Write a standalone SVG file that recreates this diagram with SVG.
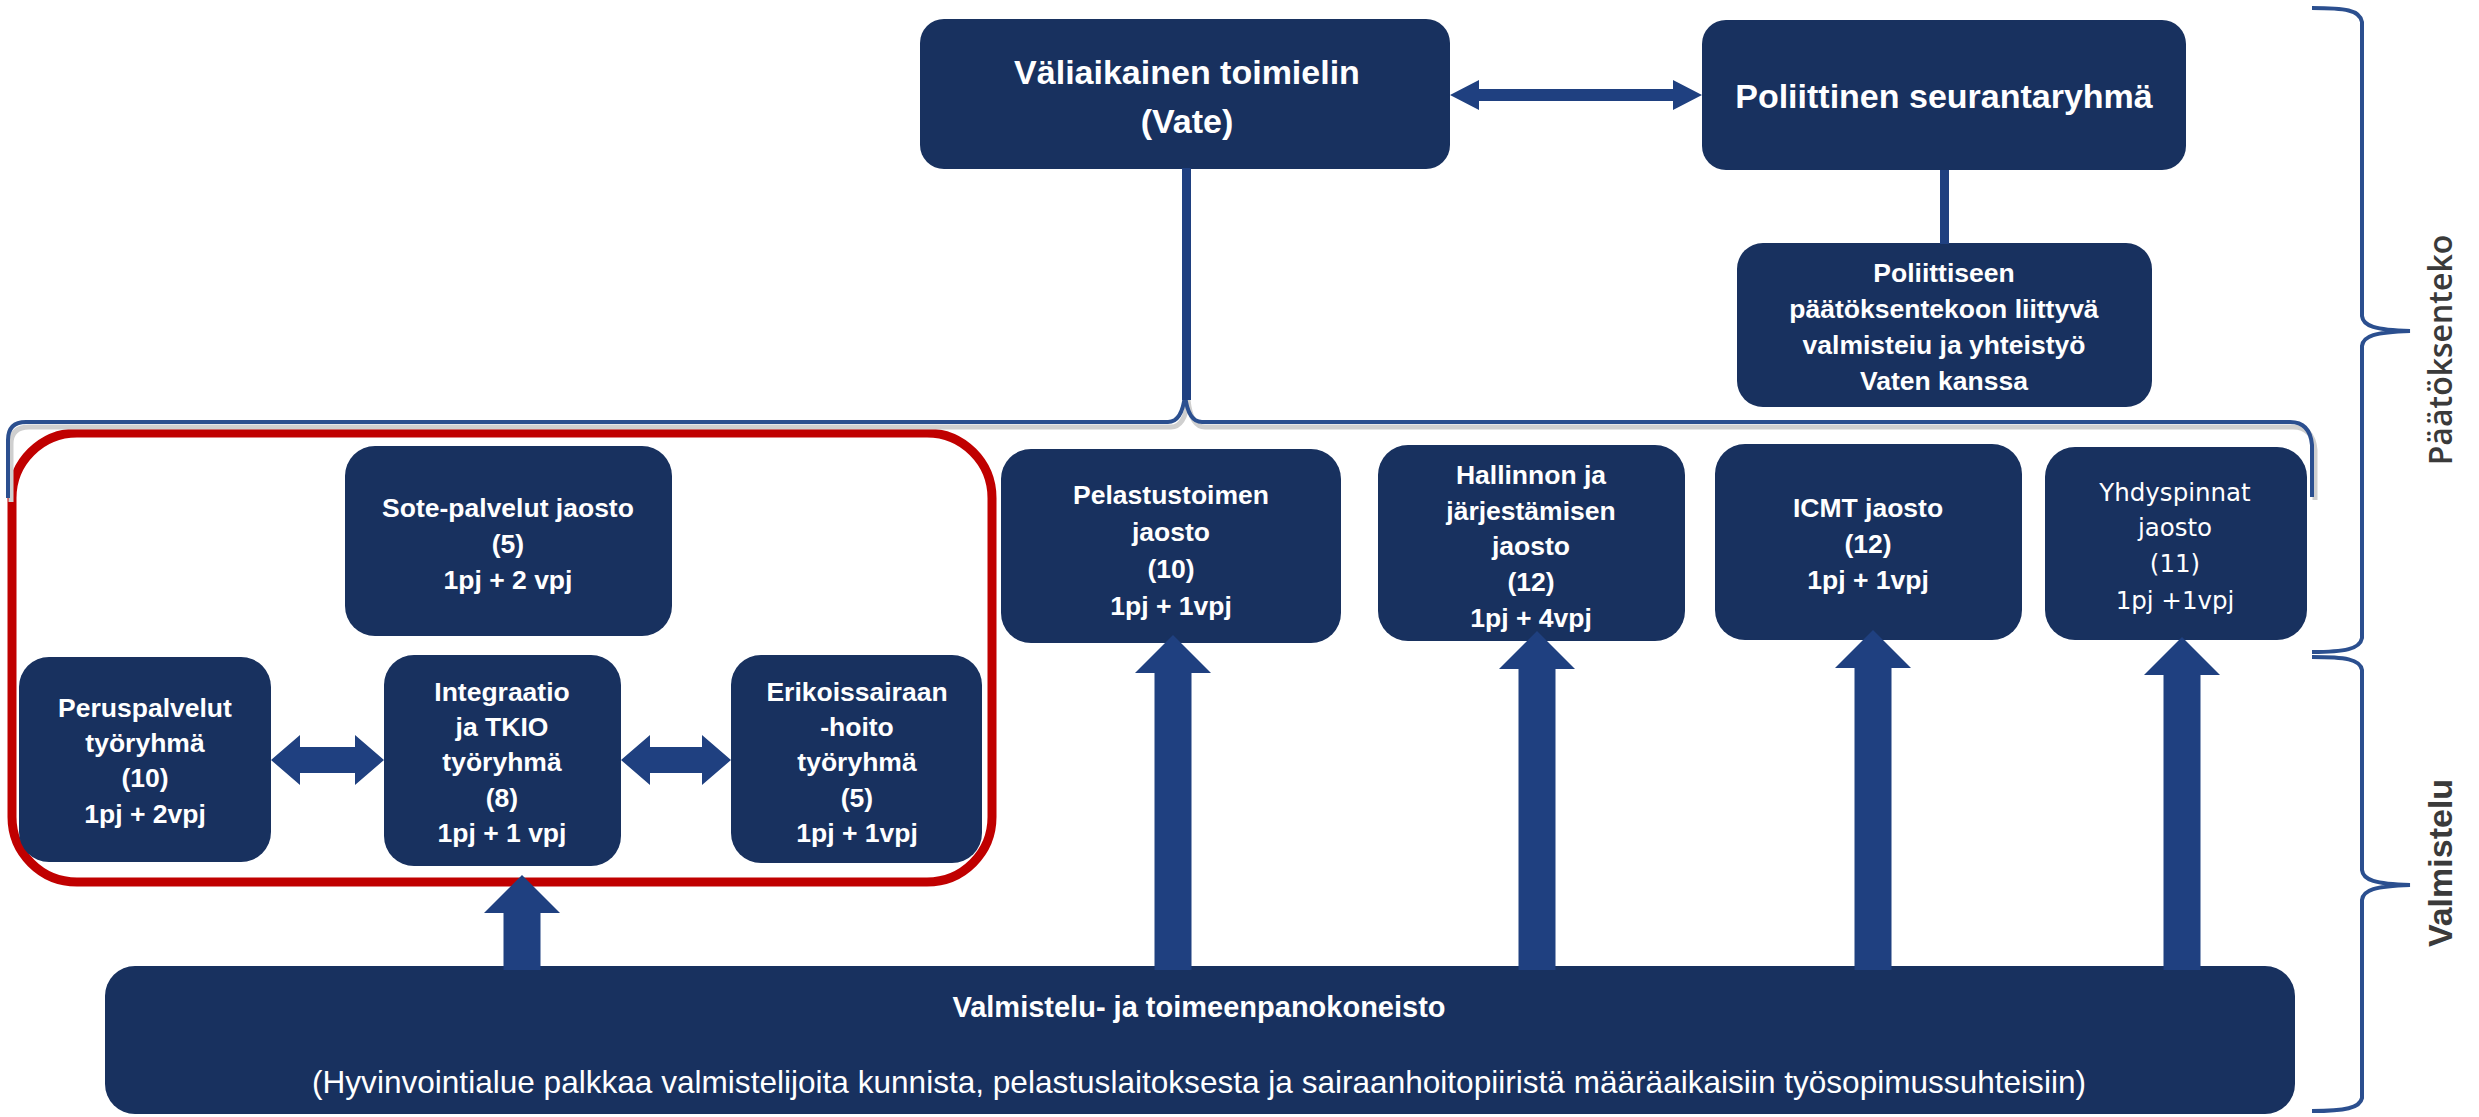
<svg xmlns="http://www.w3.org/2000/svg" width="2479" height="1117" viewBox="0 0 2479 1117">
<style>
.box{fill:#18315f}
.t{font-family:"Liberation Sans",Arial,sans-serif;fill:#ffffff;text-anchor:middle}
.s{font-size:26.5px;font-weight:bold}
.h{font-size:34px;font-weight:bold}
.y{font-family:"DejaVu Sans",Verdana,sans-serif;font-size:24.5px;fill:#ffffff;text-anchor:middle}
.arr{fill:#1f4080}
.brace{fill:none;stroke:#2b4f8f;stroke-width:4}
.shadow{fill:none;stroke:#cfcfcf;stroke-width:5}
.side{fill:#3a3a3a;text-anchor:middle}
</style>
<rect width="2479" height="1117" fill="#ffffff"/>

<g id="frame-sote">
<rect x="12" y="433" width="980" height="449" rx="65" fill="none" stroke="#c00000" stroke-width="9"/>
</g>

<g id="vate">
<rect class="box" x="920" y="19" width="530" height="150" rx="24"/>
<text class="t h" x="1187" y="84">Väliaikainen toimielin</text>
<text class="t h" x="1187" y="133">(Vate)</text>
</g>

<g id="poliittinen">
<rect class="box" x="1702" y="20" width="484" height="150" rx="24"/>
<text class="t h" x="1944" y="108">Poliittinen seurantaryhmä</text>
</g>

<g id="poliittiseen">
<rect class="box" x="1737" y="243" width="415" height="164" rx="26"/>
<text class="t s" x="1944" y="282">Poliittiseen</text>
<text class="t s" x="1944" y="318">päätöksentekoon liittyvä</text>
<text class="t s" x="1944" y="354">valmisteiu ja yhteistyö</text>
<text class="t s" x="1944" y="390">Vaten kanssa</text>
</g>

<g id="sote">
<rect class="box" x="345" y="446" width="327" height="190" rx="30"/>
<text class="t s" x="508" y="517">Sote-palvelut jaosto</text>
<text class="t s" x="508" y="553">(5)</text>
<text class="t s" x="508" y="589">1pj + 2 vpj</text>
</g>

<g id="peruspalvelut">
<rect class="box" x="19" y="657" width="252" height="205" rx="30"/>
<text class="t s" x="145" y="717">Peruspalvelut</text>
<text class="t s" x="145" y="752">työryhmä</text>
<text class="t s" x="145" y="787">(10)</text>
<text class="t s" x="145" y="823">1pj + 2vpj</text>
</g>

<g id="integraatio">
<rect class="box" x="384" y="655" width="237" height="211" rx="30"/>
<text class="t s" x="502" y="701">Integraatio</text>
<text class="t s" x="502" y="736">ja TKIO</text>
<text class="t s" x="502" y="771">työryhmä</text>
<text class="t s" x="502" y="807">(8)</text>
<text class="t s" x="502" y="842">1pj + 1 vpj</text>
</g>

<g id="erikoissairaan">
<rect class="box" x="731" y="655" width="251" height="208" rx="30"/>
<text class="t s" x="857" y="701">Erikoissairaan</text>
<text class="t s" x="857" y="736">-hoito</text>
<text class="t s" x="857" y="771">työryhmä</text>
<text class="t s" x="857" y="807">(5)</text>
<text class="t s" x="857" y="842">1pj + 1vpj</text>
</g>

<g id="pelastustoimen">
<rect class="box" x="1001" y="449" width="340" height="194" rx="30"/>
<text class="t s" x="1171" y="504">Pelastustoimen</text>
<text class="t s" x="1171" y="541">jaosto</text>
<text class="t s" x="1171" y="578">(10)</text>
<text class="t s" x="1171" y="615">1pj + 1vpj</text>
</g>

<g id="hallinnon">
<rect class="box" x="1378" y="445" width="307" height="196" rx="30"/>
<text class="t s" x="1531" y="484">Hallinnon ja</text>
<text class="t s" x="1531" y="520">järjestämisen</text>
<text class="t s" x="1531" y="555">jaosto</text>
<text class="t s" x="1531" y="591">(12)</text>
<text class="t s" x="1531" y="627">1pj + 4vpj</text>
</g>

<g id="icmt">
<rect class="box" x="1715" y="444" width="307" height="196" rx="30"/>
<text class="t s" x="1868" y="517">ICMT jaosto</text>
<text class="t s" x="1868" y="553">(12)</text>
<text class="t s" x="1868" y="589">1pj + 1vpj</text>
</g>

<g id="yhdyspinnat">
<rect class="box" x="2045" y="447" width="262" height="193" rx="30"/>
<text class="y" x="2175" y="501">Yhdyspinnat</text>
<text class="y" x="2175" y="536">jaosto</text>
<text class="y" x="2175" y="572">(11)</text>
<text class="y" x="2175" y="609">1pj +1vpj</text>
</g>

<g id="valmistelukoneisto">
<rect class="box" x="105" y="966" width="2190" height="148" rx="30"/>
<text class="t" x="1199" y="1017" font-size="29" font-weight="bold">Valmistelu- ja toimeenpanokoneisto</text>
<text class="t" x="1199" y="1093" font-size="31.5" textLength="1774" lengthAdjust="spacingAndGlyphs">(Hyvinvointialue palkkaa valmistelijoita kunnista, pelastuslaitoksesta ja sairaanhoitopiiristä määräaikaisiin työsopimussuhteisiin)</text>
</g>

<g id="labels">
<path class="brace" d="M2312,8 C2345,8 2360,10 2362,22 L2362,316 C2363,326 2375,330 2410,331 C2375,332 2363,336 2362,346 L2362,638 C2360,649 2345,652 2312,652"/>
<path class="brace" d="M2312,657 C2345,657 2360,659 2362,670 L2362,870 C2363,880 2375,884 2410,885 C2375,886 2363,890 2362,900 L2362,1098 C2360,1108 2345,1111 2312,1111"/>
<text class="side" transform="translate(2452,350) rotate(-90)" font-family="'Open Sans',sans-serif" font-size="32" font-weight="600">Päätöksenteko</text>
<text class="side" transform="translate(2452,863) rotate(-90)" font-family="'Liberation Sans',Arial,sans-serif" font-size="34" font-weight="bold">Valmistelu</text>
</g>

<g id="connectors">
<path class="shadow" d="M11,502 L11,444 Q11,427 29,427 L1171,427 Q1185,427 1188,400 Q1191,427 1205,427 L2293,427 Q2313,427 2315,450 L2315,500"/>
<path class="brace" d="M8,498 L8,440 Q8,422 26,422 L1168,422 Q1182,422 1185,395 Q1188,422 1202,422 L2290,422 Q2310,422 2312,445 L2312,497"/>
<rect class="arr" x="1182" y="168" width="9" height="232"/>
<rect class="arr" x="1940" y="170" width="9" height="74"/>
<polygon class="arr" points="1450,95 1479,80 1479,89 1673,89 1673,80 1702,95 1673,110 1673,101 1479,101 1479,110"/>
<polygon class="arr" points="271,760 300,735 300,747 355,747 355,735 384,760 355,785 355,773 300,773 300,785"/>
<polygon class="arr" points="621,760 650,735 650,747 702,747 702,735 731,760 702,785 702,773 650,773 650,785"/>
<polygon class="arr" points="522,875 560,913 540.5,913 540.5,970 503.5,970 503.5,913 484,913"/>
<polygon class="arr" points="1173,635 1211,673 1191.5,673 1191.5,970 1154.5,970 1154.5,673 1135,673"/>
<polygon class="arr" points="1537,631 1575,669 1555.5,669 1555.5,970 1518.5,970 1518.5,669 1499,669"/>
<polygon class="arr" points="1873,630 1911,668 1891.5,668 1891.5,970 1854.5,970 1854.5,668 1835,668"/>
<polygon class="arr" points="2182,637 2220,675 2200.5,675 2200.5,970 2163.5,970 2163.5,675 2144,675"/>
</g>
</svg>
